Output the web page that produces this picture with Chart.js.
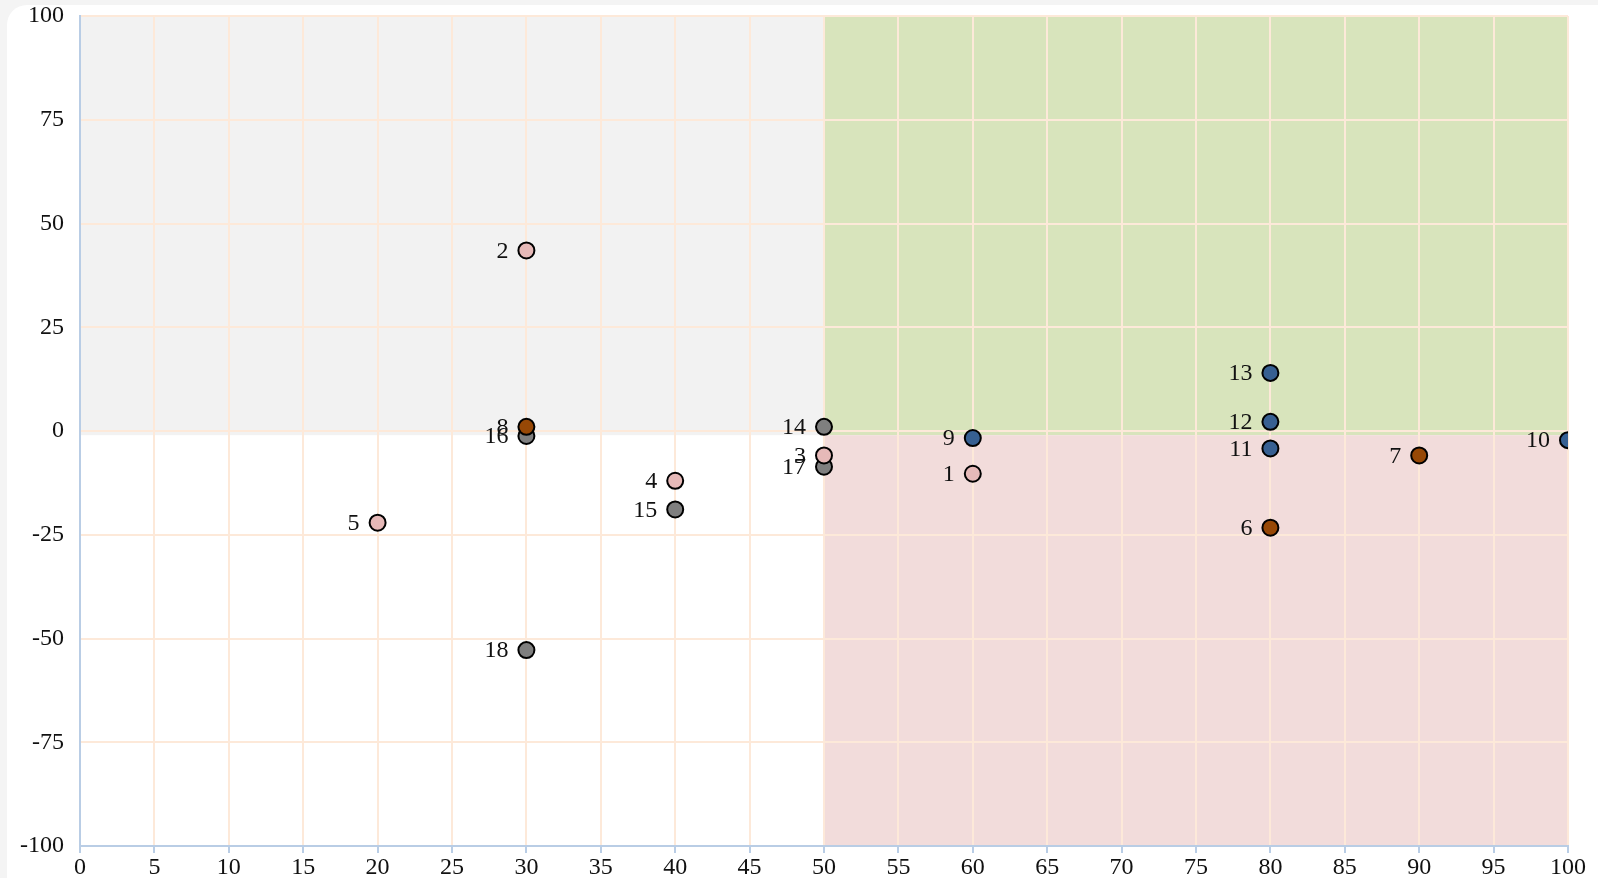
<!DOCTYPE html>
<html>
<head>
<meta charset="utf-8">
<script src="https://cdn.jsdelivr.net/npm/chart.js@4/dist/chart.umd.min.js"></script>
<style>
  html, body { margin: 0; padding: 0; background: #f4f4f4; overflow: hidden; }
  #card { position: absolute; left: 7px; top: 5px; width: 1620px; height: 900px; background: #fff; border-radius: 20px; }
  #scatterChart { position: absolute; left: 0; top: 0; }
</style>
</head>
<body>
<div id="card"></div>
<canvas id="scatterChart" width="1598" height="878"></canvas>
<script>
// point groups (x, y)
var pinkX = [60, 30, 50, 40, 20];
var pinkY = [-10.3, 43.5, -5.9, -12.0, -22.1];
var pinkLabels = ["1", "2", "3", "4", "5"];

var brownX = [80, 90, 30];
var brownY = [-23.3, -5.9, 1.0];
var brownLabels = ["6", "7", "8"];

var blueX = [60, 100, 80, 80, 80];
var blueY = [-1.7, -2.2, -4.2, 2.2, 14.0];
var blueLabels = ["9", "10", "11", "12", "13"];

var grayX = [50, 40, 30, 50, 30];
var grayY = [1.0, -18.9, -1.2, -8.6, -52.8];
var grayLabels = ["14", "15", "16", "17", "18"];

// quadrant shading: [xMin, xMax, yMin, yMax, colour]
var quadrants = [
  [0, 50, -1, 100, "#f2f2f2"],
  [50, 100, -1, 100, "#d8e4bc"],
  [50, 100, -100, -1, "#f2dcdb"]
];

var xTickMin = 0, xTickMax = 100, xStep = 5;
var yTickMin = -100, yTickMax = 100, yStep = 25;

var serif = '"Liberation Serif", "Times New Roman", serif';

function toPoints(xs, ys){
  var pts = [];
  for(var i = 0; i < xs.length; i++){
    pts.push({x: xs[i], y: ys[i]});
  }
  return pts;
}

function makeSet(xs, ys, labels, colour){
  return {
    data: toPoints(xs, ys),
    pointLabels: labels,
    backgroundColor: colour,
    borderColor: "#000",
    borderWidth: 2,
    pointRadius: 8,
    pointHoverRadius: 8
  };
}

var quadrantPlugin = {
  id: "quadrants",
  beforeDraw: function(chart){
    var ctx = chart.ctx;
    var xs = chart.scales.x, ys = chart.scales.y;
    ctx.save();
    for(var i = 0; i < quadrants.length; i++){
      var q = quadrants[i];
      var left = xs.getPixelForValue(q[0]);
      var right = xs.getPixelForValue(q[1]);
      var top = ys.getPixelForValue(q[3]);
      var bottom = ys.getPixelForValue(q[2]);
      ctx.fillStyle = q[4];
      ctx.fillRect(left, top, right - left, bottom - top);
    }
    ctx.restore();
  }
};

var labelPlugin = {
  id: "pointNumbers",
  afterDatasetsDraw: function(chart){
    var ctx = chart.ctx;
    ctx.save();
    ctx.font = "24px " + serif;
    ctx.fillStyle = "#111";
    ctx.textAlign = "right";
    ctx.textBaseline = "middle";
    chart.data.datasets.forEach(function(ds, di){
      var meta = chart.getDatasetMeta(di);
      meta.data.forEach(function(el, i){
        ctx.fillText(ds.pointLabels[i], el.x - 18, el.y + 1);
      });
    });
    ctx.restore();
  }
};

var ctxS = document.getElementById("scatterChart").getContext('2d');
var myScatter = new Chart(ctxS, {
  type: 'scatter',
  data: {
    datasets: [
      makeSet(pinkX, pinkY, pinkLabels, "#e6b9b8"),
      makeSet(brownX, brownY, brownLabels, "#974806"),
      makeSet(blueX, blueY, blueLabels, "#376092"),
      makeSet(grayX, grayY, grayLabels, "#7f7f7f")
    ]
  },
  options: {
    responsive: false,
    devicePixelRatio: 1,
    animation: false,
    layout: { padding: { top: 16, right: 30, left: 0, bottom: 0 } },
    plugins: {
      legend: { display: false },
      tooltip: { enabled: false }
    },
    scales: {
      x: {
        type: 'linear',
        min: xTickMin,
        max: xTickMax,
        ticks: { stepSize: xStep, color: "#111", font: { family: serif, size: 24 }, padding: 0, maxRotation: 0 },
        grid: { color: "#fde9d9", lineWidth: 2, tickColor: "#b9cde5", tickLength: 7 },
        border: { color: "#b9cde5", width: 2 },
        afterFit: function(scale){ scale.height = 32; scale.paddingLeft = 0; scale.paddingRight = 0; }
      },
      y: {
        type: 'linear',
        min: yTickMin,
        max: yTickMax,
        ticks: { stepSize: yStep, color: "#111", font: { family: serif, size: 24 }, padding: 16 },
        grid: { color: "#fde9d9", lineWidth: 2, drawTicks: false },
        border: { color: "#b9cde5", width: 2 },
        afterFit: function(scale){ scale.width = 80; scale.paddingTop = 0; scale.paddingBottom = 0; }
      }
    }
  },
  plugins: [quadrantPlugin, labelPlugin]
});
</script>
</body>
</html>
